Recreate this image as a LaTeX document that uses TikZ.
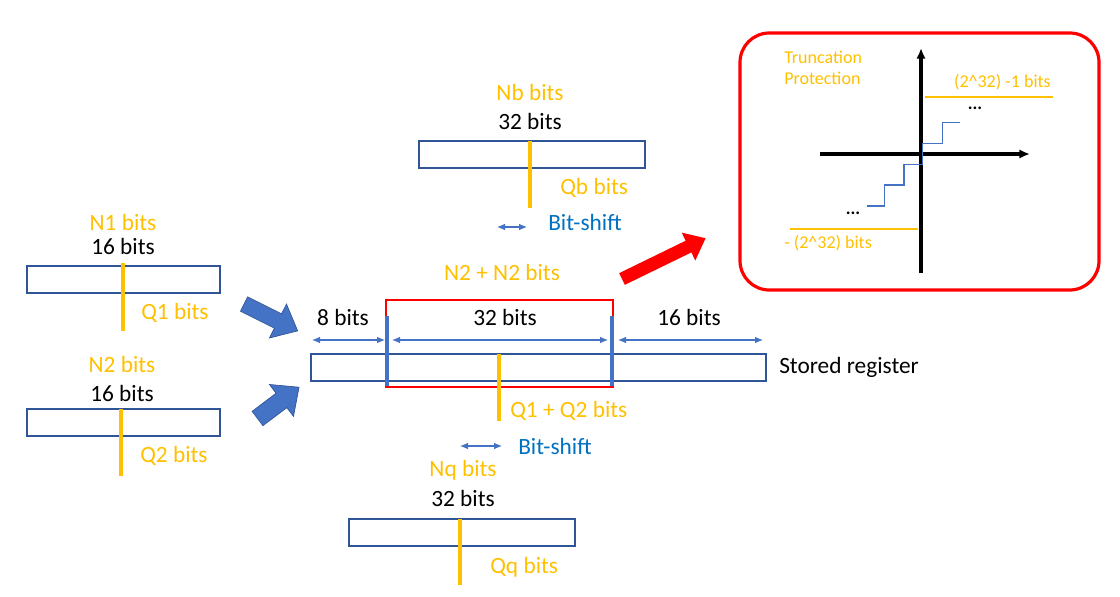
\documentclass[tikz,border=0pt]{standalone}
\usepackage{fontspec}
\setmainfont{Carlito}
\usetikzlibrary{arrows.meta}

\definecolor{gold}{HTML}{FFC000}
\definecolor{boxblue}{HTML}{2F5597}
\definecolor{arrowblue}{HTML}{4472C4}
\definecolor{shiftblue}{HTML}{0070C0}

\begin{document}
\begin{tikzpicture}[x = 0.75pt, y = -0.75pt,
        reg/.style = {draw = boxblue, line width = 0.9pt},
        point/.style = {draw = gold, line width = 2.6pt},
        lbl/.style = {font = \fontsize{17.5}{21}\selectfont, inner sep = 0pt},
        small/.style = {font = \fontsize{13.5}{16}\selectfont, inner sep = 0pt},
        dim/.style = {draw = arrowblue, line width = 0.8pt, {Latex[length = 6pt, width = 5pt]}-{Latex[length = 6pt, width = 5pt]}},
        marker/.style = {draw = arrowblue, line width = 2.6pt},
        block/.style = {fill = arrowblue, draw = boxblue, line width = 0.5pt}
    ]
    \useasboundingbox (0, 0) rectangle (1120, 596);

    % First operand: N1 bits
    \node[lbl, gold] (n1name) at (123, 222) {N1 bits};
    \node[lbl] (n1size) at (123, 246) {16 bits};
    \draw[reg] (27, 266) rectangle (220, 293);
    \draw[point] (123, 263) -- (123, 331);
    \node[lbl, gold, anchor = west] (q1) at (141, 313) {Q1 bits};

    % Second operand: N2 bits
    \node[lbl, gold] (n2name) at (122, 364) {N2 bits};
    \node[lbl] (n2size) at (122, 393) {16 bits};
    \draw[reg] (27, 409) rectangle (220, 436);
    \draw[point] (121, 409) -- (121, 476);
    \node[lbl, gold, anchor = west] (q2) at (140, 456) {Q2 bits};

    % Block arrows into the stored register
    \begin{scope}[shift = {(244, 304)}, rotate = -26.6]
        \draw[block] (0, -8) -- (38, -8) -- (38, -19) -- (60, 0) -- (38, 19) -- (38, 8) -- (0, 8) -- cycle;
    \end{scope}
    \begin{scope}[shift = {(257.5, 418.5)}, rotate = 37]
        \draw[block] (0, -9) -- (30, -9) -- (30, -20) -- (52, 0) -- (30, 20) -- (30, 9) -- (0, 9) -- cycle;
    \end{scope}

    % Bias register: Nb bits
    \node[lbl, gold] (nbname) at (530, 92) {Nb bits};
    \node[lbl] (nbsize) at (530, 121) {32 bits};
    \draw[reg] (419, 141) rectangle (645, 168);
    \draw[point] (530, 141) -- (530, 208);
    \node[lbl, gold, anchor = west] (qb) at (560, 188) {Qb bits};
    \coordinate (bsl) at (497, 227);
    \coordinate (bsr) at (527, 227);
    \draw[dim] (bsl) -- (bsr);
    \node[lbl, shiftblue, anchor = west] (bshift) at (548, 222) {Bit-shift};

    % Stored register
    \node[lbl, gold] (sumname) at (502, 272) {N2 + N2 bits};
    \draw[reg] (311, 354) rectangle (766, 381);
    \draw[red, line width = 0.8pt] (386, 300) rectangle (613, 387);
    \coordinate (ml) at (387, 316);
    \coordinate (mr) at (612, 316);
    \draw[marker] (ml) -- (387, 386);
    \draw[marker] (mr) -- (612, 386);
    \draw[point] (499, 354) -- (499, 421);
    \node[lbl, gold, anchor = west] (qsum) at (510, 411) {Q1 + Q2 bits};

    % Field widths
    \coordinate (d0) at (312, 340);
    \coordinate (d1) at (385, 340);
    \coordinate (d2) at (392, 340);
    \coordinate (d3) at (608, 340);
    \coordinate (d4) at (618, 340);
    \coordinate (d5) at (763, 340);
    \draw[dim] (d0) -- (d1);
    \draw[dim] (d2) -- (d3);
    \draw[dim] (d4) -- (d5);
    \node[lbl] (w8) at (343, 317) {8 bits};
    \node[lbl] (w32) at (505, 317) {32 bits};
    \node[lbl] (w16) at (689, 317) {16 bits};
    \node[lbl, anchor = west] (stored) at (779, 367) {Stored register};

    \coordinate (ssl) at (460, 446);
    \coordinate (ssr) at (502, 446);
    \draw[dim] (ssl) -- (ssr);
    \node[lbl, shiftblue, anchor = west] (sshift) at (518, 446) {Bit-shift};

    % Output register: Nq bits
    \node[lbl, gold] (nqname) at (463, 470) {Nq bits};
    \node[lbl] (nqsize) at (463, 498) {32 bits};
    \draw[reg] (349, 519) rectangle (575, 546);
    \draw[point] (460, 519) -- (460, 585);
    \node[lbl, gold, anchor = west] (qq) at (490, 567) {Qq bits};

    % Red arrow to the inset
    \begin{scope}[shift = {(622, 279)}, rotate = 26]
        \fill[red] (0, -6.5) -- (74, -6.5) -- (74, -15.5) -- (93, 0) -- (74, 15.5) -- (74, 6.5) -- (0, 6.5) -- cycle;
    \end{scope}

    % Inset: truncation protection
    \draw[red, line width = 2.4pt, rounded corners = 22pt] (740, 33) rectangle (1099, 290);
    \node[small, gold, anchor = west] (trunc) at (784, 57) {Truncation};
    \node[small, gold, anchor = west] (prot) at (784, 78) {Protection};
    \draw[line width = 2.6pt, -{Latex[length = 8pt, width = 7pt]}] (921, 273) -- (921, 48);
    \draw[line width = 2.6pt, -{Latex[length = 8pt, width = 7pt]}] (820, 154) -- (1030, 154);
    \draw[gold, line width = 1.8pt] (925, 97) -- (1053, 97);
    \draw[gold, line width = 1.8pt] (790, 229) -- (918, 229);
    \node[small, gold, anchor = east] (upper) at (1051, 82) {(2\textasciicircum 32) -1 bits};
    \node[small, gold, anchor = west] (lower) at (784, 243) {- (2\textasciicircum 32) bits};
    \node[small, font = \fontsize{13.5}{16}\bfseries] (dotsup) at (975, 108) {...};
    \node[small, font = \fontsize{13.5}{16}\bfseries] (dotsdn) at (853, 213) {...};
    \draw[arrowblue, line width = 0.9pt] (866.7, 206) -| (884.3, 185) -| (904, 164.3) -| (922.3, 143.3) -| (942.3, 122.3) -- (960, 122.3);
\end{tikzpicture}
\end{document}
